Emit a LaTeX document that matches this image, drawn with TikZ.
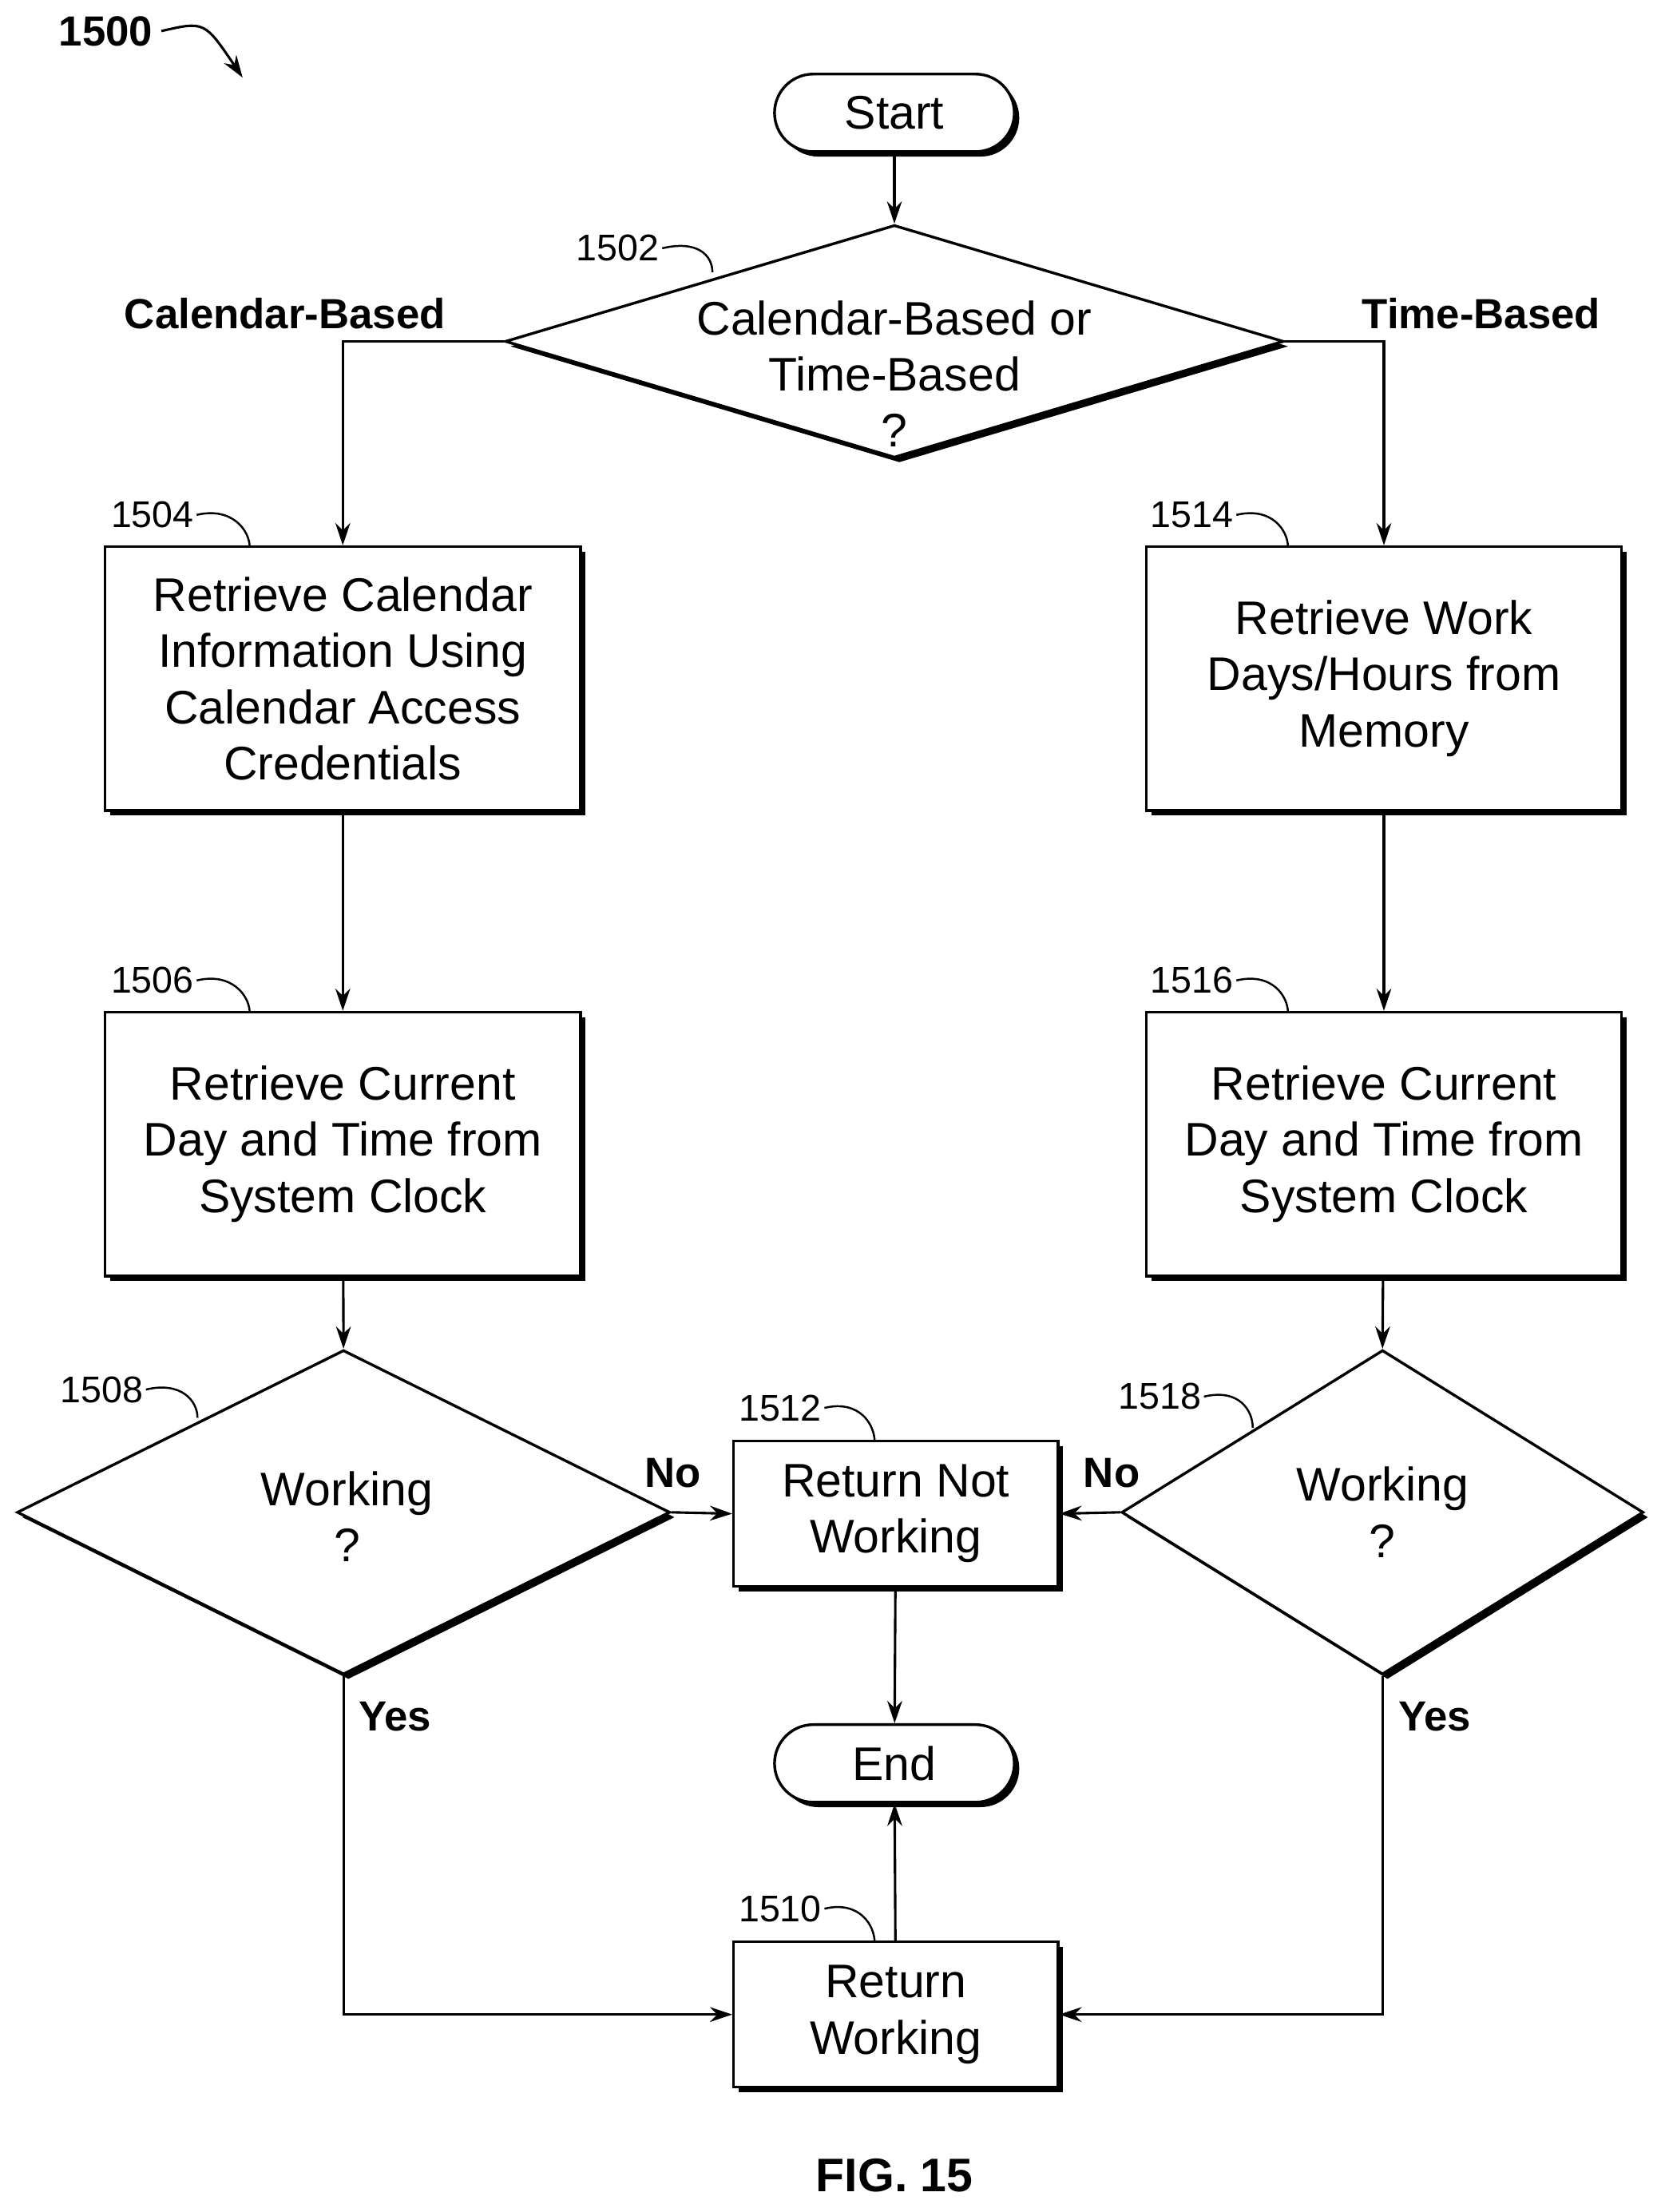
\documentclass[tikz,border=0pt]{standalone}
\usepackage{fontspec}
\setmainfont{Liberation Sans}
\usetikzlibrary{shapes.geometric,shadows,arrows.meta}
\begin{document}
\begin{tikzpicture}[x=0.02cm,y=-0.02cm,
  sh/.style={draw,line width=1.1pt,fill=white,drop shadow={shadow xshift=0.07cm,shadow yshift=-0.07cm,fill=black,opacity=1}},
  box/.style={sh,rectangle,inner sep=0pt,align=center,font=\fontsize{19}{22.7}\selectfont},
  term/.style={box,rounded corners=0.55cm,minimum width=3.4cm,minimum height=1.1cm},
  dia/.style={sh,diamond,inner sep=0pt},
  txt/.style={align=center,font=\fontsize{19}{22.7}\selectfont},
  ref/.style={font=\fontsize{15}{18}\selectfont,inner sep=1pt},
  lab/.style={font=\bfseries\fontsize{17}{20}\selectfont},
  arr/.style={line width=1pt,-{Stealth[length=9pt,width=6pt]}},
  sq/.style={line width=0.8pt}]
\useasboundingbox (0,0) rectangle (1180,1568);
\node[term] (start) at (634,80) {Start};
\node[dia,minimum width=11.04cm,minimum height=3.3cm] (d2) at (634,242) {};
\node[txt] at (634,265) {Calendar-Based or\\Time-Based\\?};
\node[box,minimum width=6.74cm,minimum height=3.74cm] (b4) at (243,481) {Retrieve Calendar\\Information Using\\Calendar Access\\Credentials};
\node[box,minimum width=6.74cm,minimum height=3.74cm] (b14) at (981,481) {Retrieve Work\\Days/Hours from\\Memory};
\node[box,minimum width=6.74cm,minimum height=3.74cm] (b6) at (243,811) {Retrieve Current\\Day and Time from\\System Clock};
\node[box,minimum width=6.74cm,minimum height=3.74cm] (b16) at (981,811) {Retrieve Current\\Day and Time from\\System Clock};
\node[dia,minimum width=9.26cm,minimum height=4.6cm] (d8) at (243.5,1072) {};
\node[txt] at (246,1075) {Working\\?};
\node[dia,minimum width=7.4cm,minimum height=4.6cm] (d18) at (980,1072) {};
\node[txt] at (980,1072) {Working\\?};
\node[box,minimum width=4.6cm,minimum height=2.06cm] (b12) at (635,1073) {Return Not\\Working};
\node[term] (end) at (634,1250) {End};
\node[box,minimum width=4.6cm,minimum height=2.06cm] (b10) at (635,1428) {Return\\Working};

\draw[arr] (start) -- (d2.north);
\draw[arr] (d2.west) -| (b4.north);
\draw[arr] (d2.east) -| (b14.north);
\draw[arr] (b4) -- (b6);
\draw[arr] (b14) -- (b16);
\draw[arr] (b6) -- (d8.north);
\draw[arr] (b16) -- (d18.north);
\draw[arr] (d8.east) -- (b12.west);
\draw[arr] (d18.west) -- (b12.east);
\draw[arr] (b12) -- (end);
\draw[arr] (b10) -- (end);
\draw[arr] (d8.south) |- (b10.west);
\draw[arr] (d18.south) |- (b10.east);

\node[lab] at (202,222) {Calendar-Based};
\node[lab] at (1050,222) {Time-Based};
\node[lab] at (477,1044) {No};
\node[lab] at (788,1044) {No};
\node[lab] at (280,1217) {Yes};
\node[lab] at (1017,1217) {Yes};

\node[lab] (l1500) at (75,22) {1500};
\draw[arr] (l1500.east) .. controls (145,15) .. (172,55);

\foreach \n/\x/\y/\ex/\ey in {1502/438/176/505/193, 1504/108/365/177/388, 1514/845/365/913/388, 1506/108/695/177/718, 1516/845/695/913/718, 1508/72/985/140/1005, 1518/822/990/888/1012, 1512/553/998/620/1022, 1510/553/1353/620/1377}{
  \node[ref] (r\n) at (\x,\y) {\n};
  \draw[sq] (r\n.east) .. controls +(25,-6) and +(0,-12) .. (\ex,\ey);
}
\node[font=\bfseries\fontsize{19}{22}\selectfont] at (634,1542) {FIG. 15};
\end{tikzpicture}
\end{document}
